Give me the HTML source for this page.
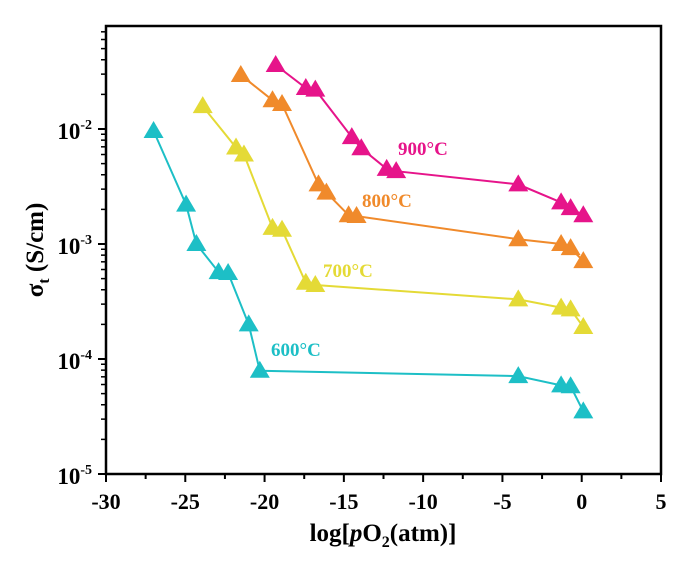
<!DOCTYPE html>
<html><head><meta charset="utf-8"><style>
html,body{margin:0;padding:0;background:#fff}
svg{display:block}
text{font-family:"Liberation Serif",serif;font-weight:bold}
</style></head><body>
<svg id="chart" width="685" height="565" viewBox="0 0 685 565" xmlns="http://www.w3.org/2000/svg">
<g id="grid"></g>
<g id="series"></g>
<g id="axes"></g>
</svg>
<script>
const xTicks = [-30,-25,-20,-15,-10,-5,0,5];
const yDecades = [-5,-4,-3,-2];
const seriesNames = ["600°C","700°C","800°C","900°C"];
const seriesColors = ["#1dbfc6","#e4da36","#f08a2b","#e6148a"];
const x600 = [-27.0,-24.95,-24.3,-22.9,-22.3,-21.0,-20.3,-4.0,-1.3,-0.7,0.1];
const y600 = [9.6e-3,2.2e-3,1.0e-3,5.7e-4,5.6e-4,2.0e-4,7.9e-5,7.1e-5,5.9e-5,5.8e-5,3.5e-5];
const x700 = [-23.9,-21.8,-21.3,-19.5,-18.9,-17.4,-16.8,-4.0,-1.3,-0.7,0.1];
const y700 = [1.58e-2,6.9e-3,6.0e-3,1.38e-3,1.33e-3,4.6e-4,4.4e-4,3.3e-4,2.8e-4,2.7e-4,1.9e-4];
const x800 = [-21.5,-19.5,-18.9,-16.6,-16.1,-14.7,-14.2,-4.0,-1.3,-0.7,0.1];
const y800 = [2.95e-2,1.78e-2,1.65e-2,3.3e-3,2.8e-3,1.78e-3,1.75e-3,1.1e-3,1.0e-3,9.2e-4,7.1e-4];
const x900 = [-19.3,-17.4,-16.8,-14.5,-13.9,-12.3,-11.7,-4.0,-1.3,-0.7,0.1];
const y900 = [3.6e-2,2.27e-2,2.2e-2,8.5e-3,6.8e-3,4.5e-3,4.3e-3,3.3e-3,2.3e-3,2.05e-3,1.78e-3];

const NS="http://www.w3.org/2000/svg";
const L=106,R=661,T=26,B=474;
const xMin=-30,xMax=5, yMinLog=-5, decadePx=115;
function xs(v){return L+(v-xMin)/(xMax-xMin)*(R-L);}
function ys(v){return B-(Math.log10(v)-yMinLog)*decadePx;}
function mk(tag,attrs,parent){const e=document.createElementNS(NS,tag);for(const k in attrs)e.setAttribute(k,attrs[k]);parent.appendChild(e);return e;}
const series=document.getElementById('series');
const axes=document.getElementById('axes');
const xsAll=[x600,x700,x800,x900], ysAll=[y600,y700,y800,y900];
const labelPos=[[271,356],[323,277],[362,207],[398,155]];
for(let s=0;s<4;s++){
  const g=mk('g',{},series);
  
  
  const pts=xsAll[s].map((v,i)=>xs(v).toFixed(1)+','+ys(ysAll[s][i]).toFixed(1)).join(' ');
  const pl=mk('polyline',{points:pts,fill:'none',stroke:seriesColors[s],'stroke-width':2},g);
  
  
  xsAll[s].forEach((v,i)=>{
    const cx=xs(v),cy=ys(ysAll[s][i]);
    const p=mk('polygon',{points:`${cx-10},${cy+7} ${cx+10},${cy+7} ${cx},${cy-10}`,fill:seriesColors[s]},g);
    
    
  });
  const t=mk('text',{x:labelPos[s][0],y:labelPos[s][1],fill:seriesColors[s],'font-size':19},g);
  t.textContent=seriesNames[s];
  
  
}
const fr=mk('rect',{x:L,y:T,width:R-L,height:B-T,fill:'none',stroke:'#000','stroke-width':2.5},axes);


for(let v=xMin;v<=xMax;v+=2.5){
  const major=Number.isInteger(v/5);
  mk('line',{x1:xs(v),x2:xs(v),y1:B,y2:B+(major?8:5),stroke:'#000','stroke-width':2},axes);
}
xTicks.forEach(v=>{
  const t=mk('text',{x:xs(v),y:B+35,'text-anchor':'middle','font-size':22},axes);
  t.textContent=v;
  
  
});
for(let d=-5;d<=-2;d++){
  mk('line',{x1:L-8,x2:L,y1:ys(Math.pow(10,d)),y2:ys(Math.pow(10,d)),stroke:'#000','stroke-width':2},axes);
  for(let m=2;m<=9;m++){
    const yy=ys(m*Math.pow(10,d));
    if(yy<T)continue;
    mk('line',{x1:L-5,x2:L,y1:yy,y2:yy,stroke:'#000','stroke-width':1.5},axes);
  }
}
yDecades.forEach(d=>{
  const t=mk('text',{x:L-14,y:ys(Math.pow(10,d))+10,'text-anchor':'end','font-size':23},axes);
  t.innerHTML='10<tspan dy="-10" font-size="14">'+d+'</tspan>';
  
  
});
const xt=mk('text',{x:383,y:541,'text-anchor':'middle','font-size':25},axes);
xt.innerHTML='log[<tspan font-style="italic">p</tspan>O<tspan dy="6" font-size="16">2</tspan><tspan dy="-6">(atm)]</tspan>';


const yt=mk('text',{x:0,y:0,'text-anchor':'middle','font-size':25,transform:'translate(43,250) rotate(-90)'},axes);
yt.innerHTML='σ<tspan dy="6" font-size="16">t</tspan><tspan dy="-6"> (S/cm)</tspan>';


</script>
</body></html>
